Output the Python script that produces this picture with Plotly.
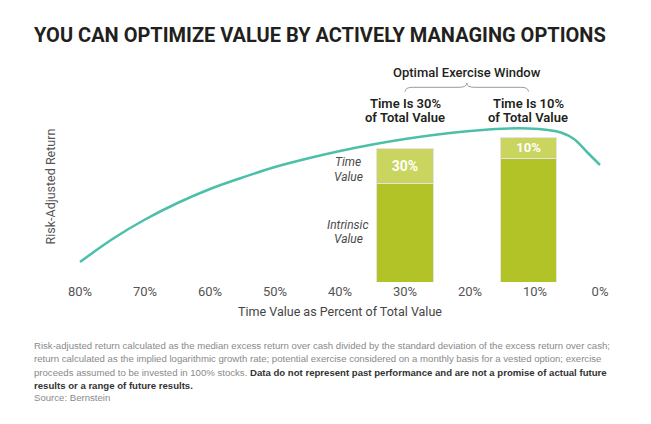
import plotly.graph_objects as go

# ---- data ----
curve_x = [80, 75, 70, 65, 60, 55, 50, 45, 40, 35, 30, 25, 20, 15, 11, 8, 6, 4, 2, 0]
curve_y = [20, 43, 62.5, 79, 93, 104.5, 115, 123.5, 131, 137.5, 143, 147.5, 151, 153.3, 153.5, 152, 149.5, 143, 130, 117]

bar_x = [30, 11]
bar_intrinsic = [98.7, 123.7]
bar_time = [35, 21]
bar_labels = ["30%", "10%"]
header_top = ["Time Is 30%", "Time Is 10%"]
header_bottom = ["of Total Value", "of Total Value"]

tick_vals = [80, 70, 60, 50, 40, 30, 20, 10, 0]
tick_text = ["80%", "70%", "60%", "50%", "40%", "30%", "20%", "10%", "0%"]

FONT = "Roboto, 'Open Sans', sans-serif"
FOOT = "'Liberation Sans', Arial, sans-serif"
DARK = "#b2c327"
LIGHT = "#c9d55e"
TEAL = "#4bbfa8"

# plot area in window pixels: x 60..620, y 60..282 (page body adds 8px offset)
def px(q):
    return (q - 60) / 560.0

def py(p):
    return (282 - p) / 222.0

fig = go.Figure()
fig.add_trace(go.Bar(x=bar_x, y=bar_intrinsic, width=8.7, marker=dict(color=DARK, line=dict(color="#e4e4e4", width=1)),
                     hoverinfo="skip"))
fig.add_trace(go.Bar(x=bar_x, y=bar_time, width=8.7, marker=dict(color=LIGHT, line=dict(color="#e4e4e4", width=1)),
                     text=bar_labels, textposition="inside", insidetextanchor="middle",
                     textfont=dict(family=FONT, size=14, color="white", weight="bold"), hoverinfo="skip"))
fig.add_trace(go.Scatter(x=curve_x, y=curve_y, mode="lines", line=dict(color=TEAL, width=2.5, shape="spline", smoothing=1.0),
                         hoverinfo="skip"))

ann = []
ann.append(dict(text="YOU CAN OPTIMIZE VALUE BY ACTIVELY MANAGING OPTIONS", xref="paper", yref="paper", x=px(32), y=py(35),
                xanchor="left", yanchor="middle", showarrow=False,
                font=dict(family=FONT, size=20, color="#231f20", weight="bold")))
xm = (bar_x[0] + bar_x[1]) / 2
ann.append(dict(text="Optimal Exercise Window", x=xm, y=210, xref="x", yref="y", showarrow=False,
                font=dict(family=FONT, size=13, color="#231f20", weight=500)))
for bx, t1, t2 in zip(bar_x, header_top, header_bottom):
    ann.append(dict(text=t1, x=bx, y=179, xref="x", yref="y", showarrow=False,
                    font=dict(family=FONT, size=13, color="#231f20", weight=600)))
    ann.append(dict(text=t2, x=bx, y=165, xref="x", yref="y", showarrow=False,
                    font=dict(family=FONT, size=13, color="#231f20", weight=600)))
for txt, yy in [("Time", 120), ("Value", 105.5), ("Intrinsic", 57.3), ("Value", 43.5)]:
    ann.append(dict(text="<i>%s</i>" % txt, x=38.7, y=yy, xref="x", yref="y", showarrow=False,
                    font=dict(family=FONT, size=12, color="#4a4a4a")))
ann.append(dict(text="Risk-Adjusted Return", textangle=-90, xref="paper", yref="paper", x=px(40), y=py(187),
                showarrow=False, font=dict(family=FONT, size=12.5, color="#555555")))
g = "#8a8a8a"
b = "#333333"
foot_lines = [
    "<span style='color:%s'>Risk-adjusted return calculated as the median excess return over cash divided by the standard deviation of the excess return over cash;</span>" % g,
    "<span style='color:%s'>return calculated as the implied logarithmic growth rate; potential exercise considered on a monthly basis for a vested option; exercise</span>" % g,
    "<span style='color:%s'>proceeds assumed to be invested in 100%% stocks. </span><b><span style='color:%s'>Data do not represent past performance and are not a promise of actual future</span></b>" % (g, b),
    "<b><span style='color:%s'>results or a range of future results.</span></b>" % b,
    "<span style='color:%s'>Source: Bernstein</span>" % g,
]
for line, yy in zip(foot_lines, [345, 358.3, 372, 385, 397]):
    ann.append(dict(text=line, xref="paper", yref="paper", x=px(32), y=py(yy), xanchor="left", yanchor="middle",
                    showarrow=False, font=dict(family=FOOT, size=9.6, color=g)))

x1, x2, d = bar_x[0], bar_x[1], 1.2
ye, yl, yp = 190.5, 194.7, 199
brace = (f"M {x1},{ye} Q {x1},{yl} {x1 - d},{yl} L {xm + d},{yl} Q {xm},{yl} {xm},{yp} "
         f"Q {xm},{yl} {xm - d},{yl} L {x2 + d},{yl} Q {x2},{yl} {x2},{ye}")

fig.update_layout(
    width=651, height=424, barmode="stack", showlegend=False,
    paper_bgcolor="white", plot_bgcolor="white",
    margin=dict(l=52, r=39, t=52, b=150),
    annotations=ann,
    shapes=[dict(type="path", path=brace, xref="x", yref="y", line=dict(color="#9a9a9a", width=1))],
    xaxis=dict(range=[83.08, -3.08], tickvals=tick_vals, ticktext=tick_text, showgrid=False, zeroline=False,
               showline=False, ticks="", tickfont=dict(family=FONT, size=13, color="#555555"),
               title=dict(text="Time Value as Percent of Total Value", standoff=9,
                          font=dict(family=FONT, size=12.5, color="#444444"))),
    yaxis=dict(range=[0, 222], visible=False),
)
fig.write_html("out.html")
